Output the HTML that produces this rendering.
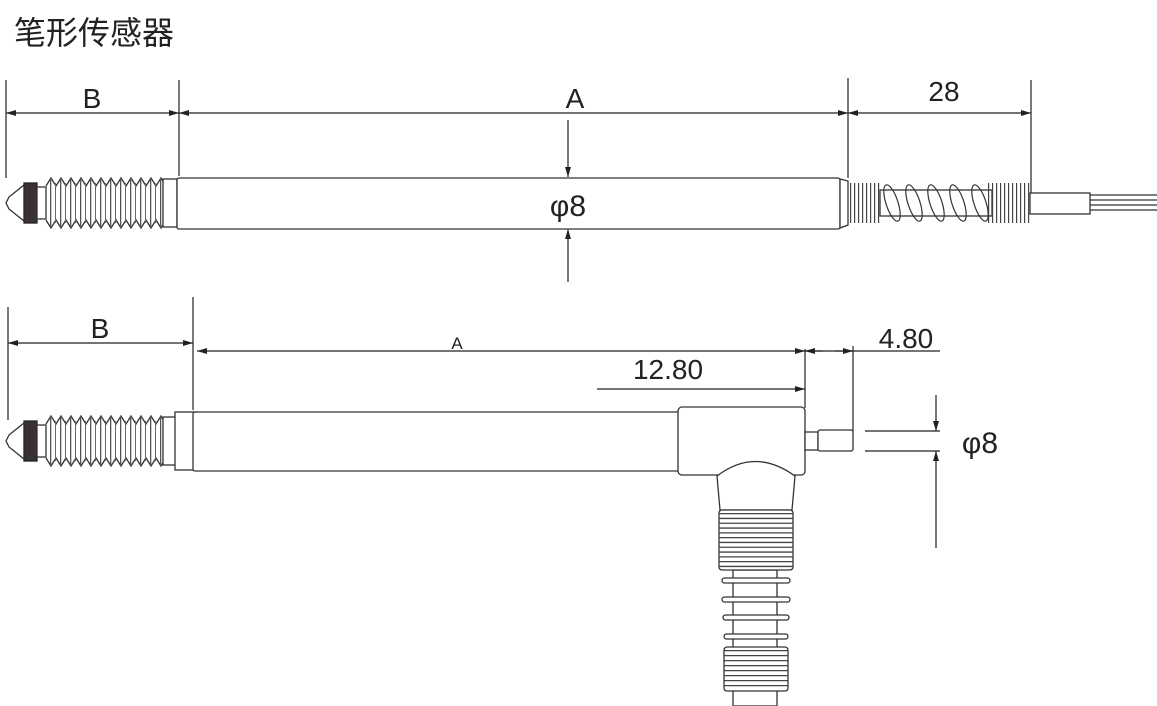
<!DOCTYPE html>
<html><head><meta charset="utf-8"><style>
html,body{margin:0;padding:0;background:#fff;width:1157px;height:706px;overflow:hidden}
svg{display:block}
text{font-family:"Liberation Sans","Noto Sans CJK SC",sans-serif;fill:#222}
</style></head><body>
<svg width="1157" height="706" viewBox="0 0 1157 706" xmlns="http://www.w3.org/2000/svg">
<defs>
<marker id="ar" viewBox="0 0 10 6" refX="10" refY="3" markerWidth="14" markerHeight="6" markerUnits="userSpaceOnUse" orient="auto-start-reverse">
<path d="M0,0 L10,3 L0,6 Z" fill="#222"/></marker>
<g id="tip" fill="none" stroke="#333" stroke-width="1.3">
<path d="M24,185 L9,197 L6,203 L9,209 L24,221" />
<rect x="24" y="183" width="13" height="40" fill="#3a3232" stroke="#222"/>
<rect x="37" y="187" width="9" height="32" fill="#fff"/>
<polyline points="46,186 51,178 56,186 61,178 66,186 71,178 76,186 81,178 86,186 91,178 96,186 101,178 106,186 111,178 116,186 121,178 126,186 131,178 136,186 141,178 146,186 151,178 156,186 161,178 166,186"/>
<polyline points="46,220 51,228 56,220 61,228 66,220 71,228 76,220 81,228 86,220 91,228 96,220 101,228 106,220 111,228 116,220 121,228 126,220 131,228 136,220 141,228 146,220 151,228 156,220 161,228 166,220"/>
<line x1="50" y1="203" x2="163" y2="203" stroke-width="50" stroke="#555" stroke-dasharray="1.3 8.7"/>
<line x1="50" y1="203" x2="163" y2="203" stroke-width="40" stroke="#666" stroke-dasharray="1 9" stroke-dashoffset="-5"/>
<rect x="163" y="179" width="14" height="48" fill="#fff"/>
</g>
</defs>

<text x="14" y="44" font-size="32" style="font-family:'Noto Sans CJK SC',sans-serif">笔形传感器</text>

<!-- TOP -->
<g stroke="#222" stroke-width="1.2" fill="none">
<line x1="6" y1="80" x2="6" y2="178"/>
<line x1="179" y1="80" x2="179" y2="176"/>
<line x1="848" y1="78" x2="848" y2="178"/>
<line x1="1031" y1="80" x2="1031" y2="200"/>
<line x1="6" y1="113" x2="179" y2="113" marker-start="url(#ar)" marker-end="url(#ar)"/>
<line x1="179" y1="113" x2="848" y2="113" marker-start="url(#ar)" marker-end="url(#ar)"/>
<line x1="848" y1="113" x2="1031" y2="113" marker-start="url(#ar)" marker-end="url(#ar)"/>
<line x1="568" y1="120" x2="568" y2="177" marker-end="url(#ar)"/>
<line x1="568" y1="282" x2="568" y2="229" marker-end="url(#ar)"/>
</g>
<text x="92" y="108" font-size="28" text-anchor="middle">B</text>
<text x="575" y="108" font-size="28" text-anchor="middle">A</text>
<text x="944" y="101" font-size="28" text-anchor="middle">28</text>

<use href="#tip"/>
<g stroke="#333" stroke-width="1.3" fill="#fff">
<rect x="177" y="178" width="663" height="51" rx="2"/>
<path d="M840,179 L848,181 L848,225 L840,228 Z"/>
<rect x="880" y="190" width="112" height="26"/>
<rect x="1030" y="193" width="60" height="21"/>
<path d="M1090,195 H1157 M1090,200 H1157 M1090,205 H1157 M1090,210 H1157" fill="none"/>
<line x1="850" y1="203" x2="882" y2="203" stroke-width="40" stroke="#444" stroke-dasharray="1.2 2.8"/>
<line x1="988" y1="203" x2="1030" y2="203" stroke-width="40" stroke="#444" stroke-dasharray="1.2 2.8"/>
<g fill="none" stroke-width="1.2">
<ellipse cx="892" cy="203" rx="6" ry="19" transform="rotate(-18 892 203)"/>
<ellipse cx="914" cy="203" rx="6" ry="19" transform="rotate(-18 914 203)"/>
<ellipse cx="936" cy="203" rx="6" ry="19" transform="rotate(-18 936 203)"/>
<ellipse cx="958" cy="203" rx="6" ry="19" transform="rotate(-18 958 203)"/>
<ellipse cx="980" cy="203" rx="6" ry="19" transform="rotate(-18 980 203)"/>
</g>
</g>
<text x="568" y="216" font-size="30" text-anchor="middle">φ8</text>

<!-- BOTTOM -->
<g stroke="#222" stroke-width="1.2" fill="none">
<line x1="8" y1="307" x2="8" y2="420"/>
<line x1="193" y1="297" x2="193" y2="410"/>
<line x1="8" y1="343" x2="193" y2="343" marker-start="url(#ar)" marker-end="url(#ar)"/>
<line x1="197" y1="351" x2="805" y2="351" marker-start="url(#ar)" marker-end="url(#ar)"/>
<line x1="597" y1="389" x2="805" y2="389" marker-end="url(#ar)"/>
<line x1="805" y1="349" x2="805" y2="408"/>
<line x1="853" y1="346" x2="853" y2="432"/>
<line x1="805" y1="351" x2="853" y2="351"/>
<line x1="835" y1="351" x2="853" y2="351" marker-end="url(#ar)"/>
<line x1="823" y1="351" x2="805" y2="351" marker-end="url(#ar)"/>
<line x1="853" y1="351" x2="940" y2="351"/>
<line x1="498" y1="412" x2="498" y2="470" marker-start="url(#ar)" marker-end="url(#ar)"/>
<line x1="865" y1="431" x2="940" y2="431"/>
<line x1="865" y1="451" x2="940" y2="451"/>
<line x1="936" y1="395" x2="936" y2="431" marker-end="url(#ar)"/>
<line x1="936" y1="548" x2="936" y2="451" marker-end="url(#ar)"/>
</g>
<text x="100" y="338" font-size="28" text-anchor="middle">B</text>
<text x="457" y="349" font-size="17" text-anchor="middle">A</text>
<text x="668" y="379" font-size="28" text-anchor="middle">12.80</text>
<text x="906" y="348" font-size="28" text-anchor="middle">4.80</text>
<text x="452" y="452" font-size="30" text-anchor="middle">φ8</text>
<text x="980" y="453" font-size="30" text-anchor="middle">φ8</text>

<g transform="translate(0,238)"><use href="#tip"/></g>
<g stroke="#333" stroke-width="1.3" fill="#fff">
<rect x="175" y="412" width="22" height="58"/>
<rect x="193" y="412" width="490" height="59" rx="2"/>
<rect x="678" y="407" width="127" height="68" rx="4"/>
<rect x="805" y="432" width="13" height="18"/>
<rect x="818" y="430" width="35" height="21" rx="2"/>
<path d="M717,476 Q755,447 795,476 L792,510 L720,510 Z"/>
<rect x="733" y="570" width="44" height="136"/>
<rect x="719" y="510" width="74" height="60" rx="3"/>
<line x1="756" y1="513" x2="756" y2="568" stroke-width="74" stroke="#444" stroke-dasharray="1.3 3.5"/>
<rect x="724" y="647" width="64" height="44" rx="3"/>
<line x1="756" y1="650" x2="756" y2="690" stroke-width="63" stroke="#444" stroke-dasharray="1.3 3.7"/>
<rect x="722" y="578" width="68" height="5" rx="2.5"/>
<rect x="722" y="597" width="68" height="5" rx="2.5"/>
<rect x="723" y="615" width="66" height="5" rx="2.5"/>
<rect x="724" y="634" width="64" height="5" rx="2.5"/>
</g>
</svg>
</body></html>
